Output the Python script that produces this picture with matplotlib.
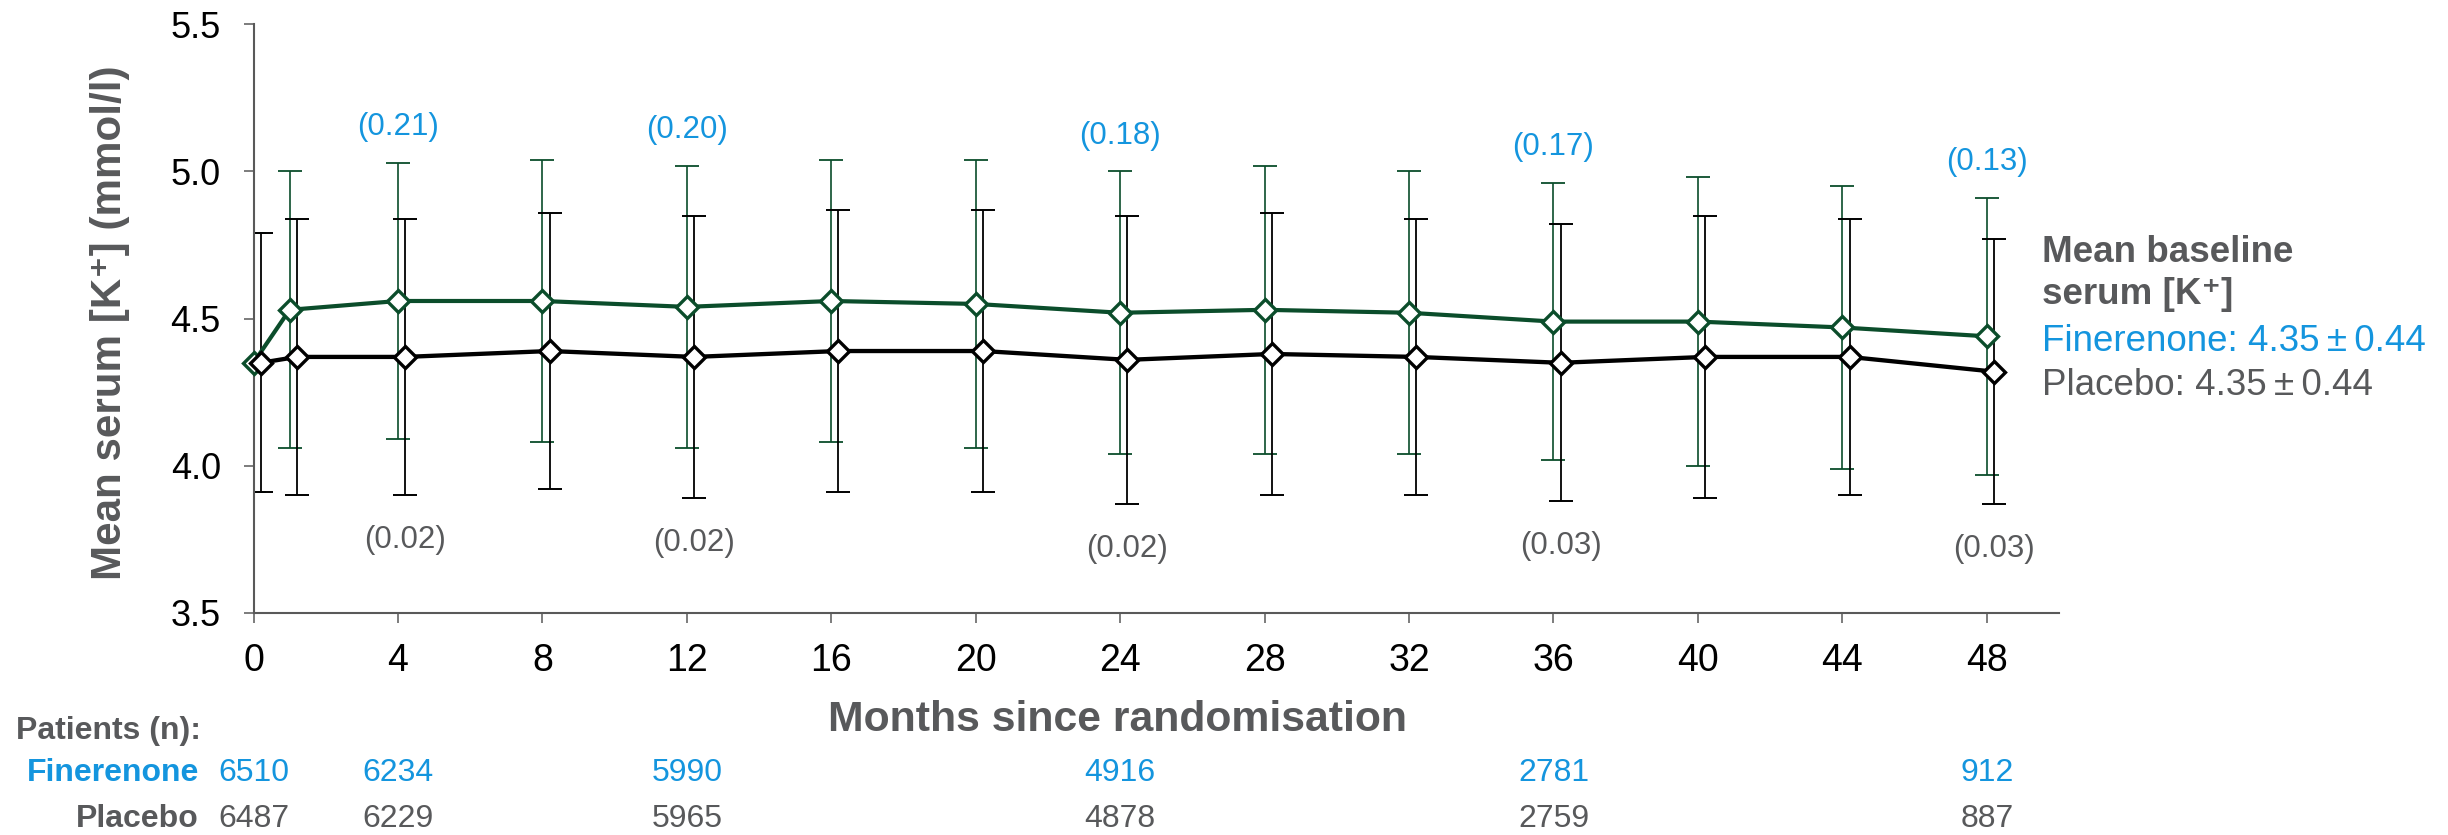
import matplotlib
matplotlib.use("Agg")
import matplotlib.pyplot as plt
from matplotlib.transforms import blended_transform_factory

plt.rcParams['font.family'] = ['Liberation Sans', 'DejaVu Sans']

# Mean serum potassium (mmol/l) with SD, by visit
months = [0, 1, 4, 8, 12, 16, 20, 24, 28, 32, 36, 40, 44, 48]
fin_mean = [4.35, 4.53, 4.56, 4.56, 4.54, 4.56, 4.55, 4.52, 4.53, 4.52, 4.49, 4.49, 4.47, 4.44]
fin_sd = [0.44, 0.47, 0.47, 0.48, 0.48, 0.48, 0.49, 0.48, 0.49, 0.48, 0.47, 0.49, 0.48, 0.47]
pbo_mean = [4.35, 4.37, 4.37, 4.39, 4.37, 4.39, 4.39, 4.36, 4.38, 4.37, 4.35, 4.37, 4.37, 4.32]
pbo_sd = [0.44, 0.47, 0.47, 0.47, 0.48, 0.48, 0.48, 0.49, 0.48, 0.47, 0.47, 0.48, 0.47, 0.45]

# Mean change from baseline at selected visits
change_months = [4, 12, 24, 36, 48]
fin_change = [0.21, 0.20, 0.18, 0.17, 0.13]
pbo_change = [0.02, 0.02, 0.02, 0.03, 0.03]

# Patients at risk
n_months = [0, 4, 12, 24, 36, 48]
fin_n = [6510, 6234, 5990, 4916, 2781, 912]
pbo_n = [6487, 6229, 5965, 4878, 2759, 887]

x_ticks = [0, 4, 8, 12, 16, 20, 24, 28, 32, 36, 40, 44, 48]
y_ticks = [3.5, 4.0, 4.5, 5.0, 5.5]

GREEN = '#0B4D2B'
BLUE = '#1495DE'
GREY = '#58595B'
AXIS = '#595959'
DODGE = 0.2  # placebo points shifted right so the bars do not overlap

W, H = 2448, 835
fig = plt.figure(figsize=(W / 100, H / 100), dpi=100)
ax = fig.add_axes([253.5 / W, 1 - 613 / H, (2059 - 253.5) / W, (613 - 24.3) / H])

pbo_x = [m + DODGE for m in months]

ax.errorbar(months, fin_mean, yerr=fin_sd, fmt='none', ecolor=GREEN,
            elinewidth=1.2, capsize=8.5, capthick=1.3, zorder=2)
ax.errorbar(pbo_x, pbo_mean, yerr=pbo_sd, fmt='none', ecolor='black',
            elinewidth=1.3, capsize=8.5, capthick=1.4, zorder=2)
ax.plot(months, fin_mean, color=GREEN, lw=3.0, marker='D', ms=11,
        mfc='white', mec=GREEN, mew=2.4, zorder=4, clip_on=False)
ax.plot(pbo_x, pbo_mean, color='black', lw=3.1, marker='D', ms=11,
        mfc='white', mec='black', mew=2.4, zorder=5, clip_on=False)

# change-from-baseline annotations above/below the bars
for m, c in zip(change_months, fin_change):
    i = months.index(m)
    ax.text(m, fin_mean[i] + fin_sd[i] + 0.095, f'({c:.2f})', color=BLUE,
            fontsize=22.5, ha='center', va='baseline')
for m, c in zip(change_months, pbo_change):
    i = months.index(m)
    ax.text(m + DODGE, pbo_mean[i] - pbo_sd[i] - 0.18, f'({c:.2f})', color=GREY,
            fontsize=22.5, ha='center', va='baseline')

ax.set_xlim(0, 50)
ax.set_ylim(3.5, 5.5)
ax.set_xticks(x_ticks)
ax.set_xticklabels([str(t) for t in x_ticks])
ax.set_yticks(y_ticks)
ax.set_yticklabels([f'{t:.1f}' for t in y_ticks])
for side in ('top', 'right'):
    ax.spines[side].set_visible(False)
for side in ('left', 'bottom'):
    ax.spines[side].set_color(AXIS)
    ax.spines[side].set_linewidth(1.5)
ax.tick_params(axis='both', direction='out', length=7.2, width=1.1,
               color=AXIS, labelcolor='black')
ax.tick_params(axis='x', pad=14.5, labelsize=27)
ax.tick_params(axis='y', pad=16.3, labelsize=26)

# axis titles
fig.text(120.5 / W, 1 - 322.2 / H, 'Mean serum [K\u207a] (mmol/l)', rotation=90,
         rotation_mode='anchor', ha='center', va='baseline', fontsize=30.3,
         fontweight='bold', color=GREY)
fig.text(1118 / W, 1 - 731 / H, 'Months since randomisation', ha='center',
         va='baseline', fontsize=30.8, fontweight='bold', color=GREY)

# baseline legend
fig.text(2041.6 / W, 1 - 261.7 / H, 'Mean baseline', fontsize=26.5,
         fontweight='bold', color=GREY, va='baseline')
fig.text(2041.6 / W, 1 - 304 / H, 'serum [K\u207a]', fontsize=26.5,
         fontweight='bold', color=GREY, va='baseline')
fig.text(2041.6 / W, 1 - 350.7 / H, 'Finerenone: 4.35\u2009\u00b1\u20090.44',
         fontsize=26.5, color=BLUE, va='baseline')
fig.text(2041.6 / W, 1 - 395 / H, 'Placebo: 4.35\u2009\u00b1\u20090.44',
         fontsize=26.5, color=GREY, va='baseline')

# patients-at-risk table
fig.text(16 / W, 1 - 739.3 / H, 'Patients (n):', fontsize=23,
         fontweight='bold', color=GREY, va='baseline', ha='left')
fig.text(199 / W, 1 - 781 / H, 'Finerenone', fontsize=23,
         fontweight='bold', color=BLUE, va='baseline', ha='right')
fig.text(199 / W, 1 - 827.3 / H, 'Placebo', fontsize=23,
         fontweight='bold', color=GREY, va='baseline', ha='right')
tr = blended_transform_factory(ax.transData, fig.transFigure)
for m, n in zip(n_months, fin_n):
    ax.text(m, 1 - 781 / H, str(n), transform=tr, fontsize=23, color=BLUE,
            ha='center', va='baseline')
for m, n in zip(n_months, pbo_n):
    ax.text(m, 1 - 827.3 / H, str(n), transform=tr, fontsize=23, color=GREY,
            ha='center', va='baseline')

fig.savefig('out.png', dpi=100)
